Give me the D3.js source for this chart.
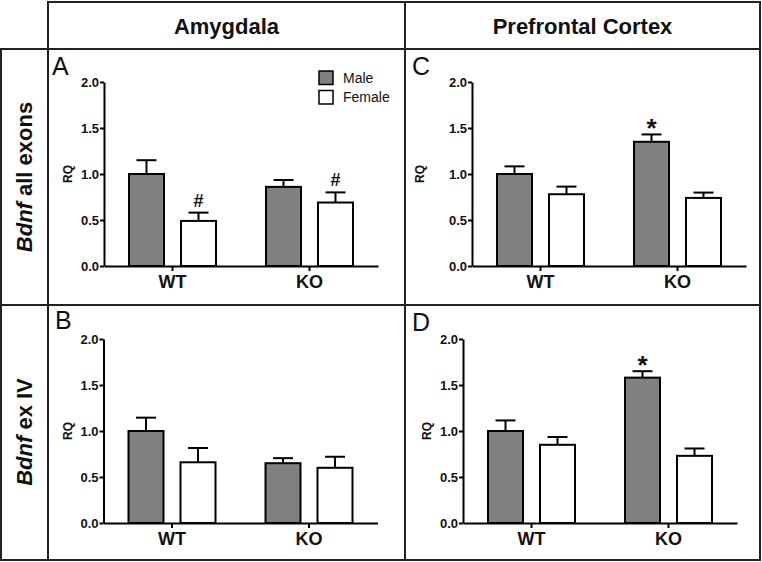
<!DOCTYPE html>
<html><head><meta charset="utf-8">
<script src="https://cdn.jsdelivr.net/npm/d3@7"></script>
<style>
html,body{margin:0;padding:0;background:#fff;}
text{font-family:"Liberation Sans",Arial,Helvetica,sans-serif;}
</style></head>
<body><div id="chart"></div>
<script>
// ---- data ----
const groups = ["WT", "KO"];
const sexes = ["Male", "Female"];
const yTicks = [0, 0.5, 1.0, 1.5, 2.0];
const columnTitles = ["Amygdala", "Prefrontal Cortex"];
const rowTitles = [["Bdnf", " all exons"], ["Bdnf", " ex IV"]];
const panelLetters = ["A", "B", "C", "D"];

// Panel A: Amygdala, all exons
const amyAllMale = [1.00, 0.86];
const amyAllMaleErr = [0.15, 0.075];
const amyAllFemale = [0.49, 0.69];
const amyAllFemaleErr = [0.09, 0.11];
// Panel B: Amygdala, ex IV
const amyIVMale = [1.00, 0.65];
const amyIVMaleErr = [0.145, 0.055];
const amyIVFemale = [0.66, 0.60];
const amyIVFemaleErr = [0.155, 0.12];
// Panel C: Prefrontal cortex, all exons
const pfcAllMale = [1.00, 1.35];
const pfcAllMaleErr = [0.083, 0.08];
const pfcAllFemale = [0.78, 0.74];
const pfcAllFemaleErr = [0.083, 0.058];
// Panel D: Prefrontal cortex, ex IV
const pfcIVMale = [1.00, 1.58];
const pfcIVMaleErr = [0.115, 0.07];
const pfcIVFemale = [0.85, 0.73];
const pfcIVFemaleErr = [0.085, 0.08];

// significance marks: [group, sex, symbol]
const marksA = [["WT", "Female", "#"], ["KO", "Female", "#"]];
const marksB = [];
const marksC = [["KO", "Male", "*"]];
const marksD = [["KO", "Male", "*"]];

// ---- layout ----
const W = 762, H = 562;
const svg = d3.select("#chart").append("svg").attr("width", W).attr("height", H);
const lineCol = "#222";
const maleFill = "#808080";

// grid
const gridLines = [
  [48, 2, 760, 2], [1, 49, 760, 49], [1, 305, 760, 305], [1, 560, 760, 560],
  [1, 49, 1, 560], [48, 2, 48, 560], [405, 2, 405, 560], [760, 2, 760, 560]
];
svg.append("g").selectAll("line").data(gridLines).join("line")
  .attr("x1", d => d[0]).attr("y1", d => d[1]).attr("x2", d => d[2]).attr("y2", d => d[3])
  .attr("stroke", lineCol).attr("stroke-width", 2).attr("stroke-linecap", "square");

// column titles
const colCenters = [226.5, 582.5];
svg.append("g").selectAll("text").data(columnTitles).join("text")
  .attr("x", (d, i) => colCenters[i]).attr("y", 34)
  .attr("text-anchor", "middle").attr("font-size", 22).attr("font-weight", "bold")
  .attr("fill", "#111").text(d => d);

// row titles
const rowCenters = [177, 432];
rowTitles.forEach((rt, i) => {
  const t = svg.append("text")
    .attr("transform", `translate(32,${rowCenters[i]}) rotate(-90)`)
    .attr("text-anchor", "middle").attr("font-size", 22).attr("font-weight", "bold").attr("fill", "#111");
  t.append("tspan").attr("font-style", "italic").text(rt[0]);
  t.append("tspan").text(rt[1]);
});

const panels = [
  {letter: "A", lx: 52, ly: 75, x0: 104, y0: 266, rqx: 68, male: amyAllMale, maleErr: amyAllMaleErr, female: amyAllFemale, femaleErr: amyAllFemaleErr, marks: marksA, legend: true},
  {letter: "B", lx: 55, ly: 329, x0: 103.5, y0: 523, rqx: 68, male: amyIVMale, maleErr: amyIVMaleErr, female: amyIVFemale, femaleErr: amyIVFemaleErr, marks: marksB, legend: false},
  {letter: "C", lx: 412, ly: 75, x0: 472, y0: 266, rqx: 420, male: pfcAllMale, maleErr: pfcAllMaleErr, female: pfcAllFemale, femaleErr: pfcAllFemaleErr, marks: marksC, legend: false},
  {letter: "D", lx: 412, ly: 331, x0: 463, y0: 523, rqx: 427, male: pfcIVMale, maleErr: pfcIVMaleErr, female: pfcIVFemale, femaleErr: pfcIVFemaleErr, marks: marksD, legend: false}
];

const axisH = 184, axisW = 274;

panels.forEach(p => {
  const g = svg.append("g");
  const y = d3.scaleLinear().domain([0, 2]).range([p.y0, p.y0 - axisH]);
  const x0 = d3.scaleBand().domain(groups).range([p.x0, p.x0 + axisW]);
  const x1 = d3.scaleBand().domain(sexes).range([-43.5, 43.5]).paddingInner(0.327);
  const center = gname => x0(gname) + x0.bandwidth() / 2;

  // panel letter
  g.append("text").attr("x", p.lx).attr("y", p.ly).attr("font-size", 25).attr("fill", "#111").text(p.letter);

  const rows = groups.map((gn, i) => [
    {group: gn, sex: "Male", v: p.male[i], e: p.maleErr[i]},
    {group: gn, sex: "Female", v: p.female[i], e: p.femaleErr[i]}
  ]).flat();

  // error bars (up only)
  const eg = g.append("g").attr("stroke", "#000").attr("stroke-width", 2);
  rows.forEach(d => {
    const cx = center(d.group) + x1(d.sex) + x1.bandwidth() / 2;
    eg.append("line").attr("x1", cx).attr("x2", cx).attr("y1", y(d.v)).attr("y2", y(d.v + d.e));
    eg.append("line").attr("x1", cx - 10).attr("x2", cx + 10).attr("y1", y(d.v + d.e)).attr("y2", y(d.v + d.e));
  });

  // bars
  g.append("g").selectAll("rect").data(rows).join("rect")
    .attr("x", d => center(d.group) + x1(d.sex))
    .attr("width", x1.bandwidth())
    .attr("y", d => y(d.v))
    .attr("height", d => y(0) - y(d.v))
    .attr("fill", d => d.sex === "Male" ? maleFill : "#fff")
    .attr("stroke", "#000").attr("stroke-width", 2);

  // y axis
  const ya = g.append("g").attr("transform", `translate(${p.x0},0)`)
    .call(d3.axisLeft(y).tickValues(yTicks).tickFormat(d3.format(".1f")).tickSize(4).tickSizeOuter(0).tickPadding(1));
  ya.selectAll("path,line").attr("stroke", "#000").attr("stroke-width", 2);
  ya.selectAll("text").attr("font-size", 13).attr("font-weight", "bold").attr("fill", "#111")
    .attr("font-family", "'Liberation Sans',Arial,sans-serif");

  // x axis
  const xa = g.append("g").attr("transform", `translate(0,${p.y0})`)
    .call(d3.axisBottom(x0).tickSize(5).tickSizeOuter(0).tickPadding(4));
  xa.selectAll("path,line").attr("stroke", "#000").attr("stroke-width", 2);
  xa.selectAll("text").attr("font-size", 18).attr("font-weight", "bold").attr("fill", "#111")
    .attr("font-family", "'Liberation Sans',Arial,sans-serif");

  // RQ label
  g.append("text").attr("transform", `translate(${p.rqx},${y(1)}) rotate(-90)`)
    .attr("text-anchor", "middle").attr("dy", "0.35em").attr("font-size", 12).attr("font-weight", "bold")
    .attr("fill", "#111").text("RQ");

  // significance marks
  p.marks.forEach(m => {
    const idx = groups.indexOf(m[0]);
    const v = m[1] === "Male" ? p.male[idx] + p.maleErr[idx] : p.female[idx] + p.femaleErr[idx];
    const cx = center(m[0]) + x1(m[1]) + x1.bandwidth() / 2;
    if (m[2] === "#") {
      g.append("text").attr("x", cx).attr("y", y(v) - 6).attr("text-anchor", "middle")
        .attr("font-size", 18).attr("font-weight", "bold").attr("fill", "#111").text("#");
    } else {
      g.append("text").attr("x", cx).attr("y", y(v) + 3).attr("text-anchor", "middle")
        .attr("font-size", 26).attr("font-weight", "bold").attr("fill", "#111").text("*");
    }
  });

  // legend
  if (p.legend) {
    const lg = g.append("g").attr("transform", "translate(319,71)");
    sexes.forEach((s, i) => {
      lg.append("rect").attr("x", 0).attr("y", i * 19.5).attr("width", 14).attr("height", 13.5)
        .attr("fill", s === "Male" ? maleFill : "#fff").attr("stroke", "#000").attr("stroke-width", 1.5);
      lg.append("text").attr("x", 24).attr("y", i * 19.5 + 7).attr("dy", "0.35em")
        .attr("font-size", 14).attr("fill", "#111").text(s);
    });
  }
});
</script></body></html>
